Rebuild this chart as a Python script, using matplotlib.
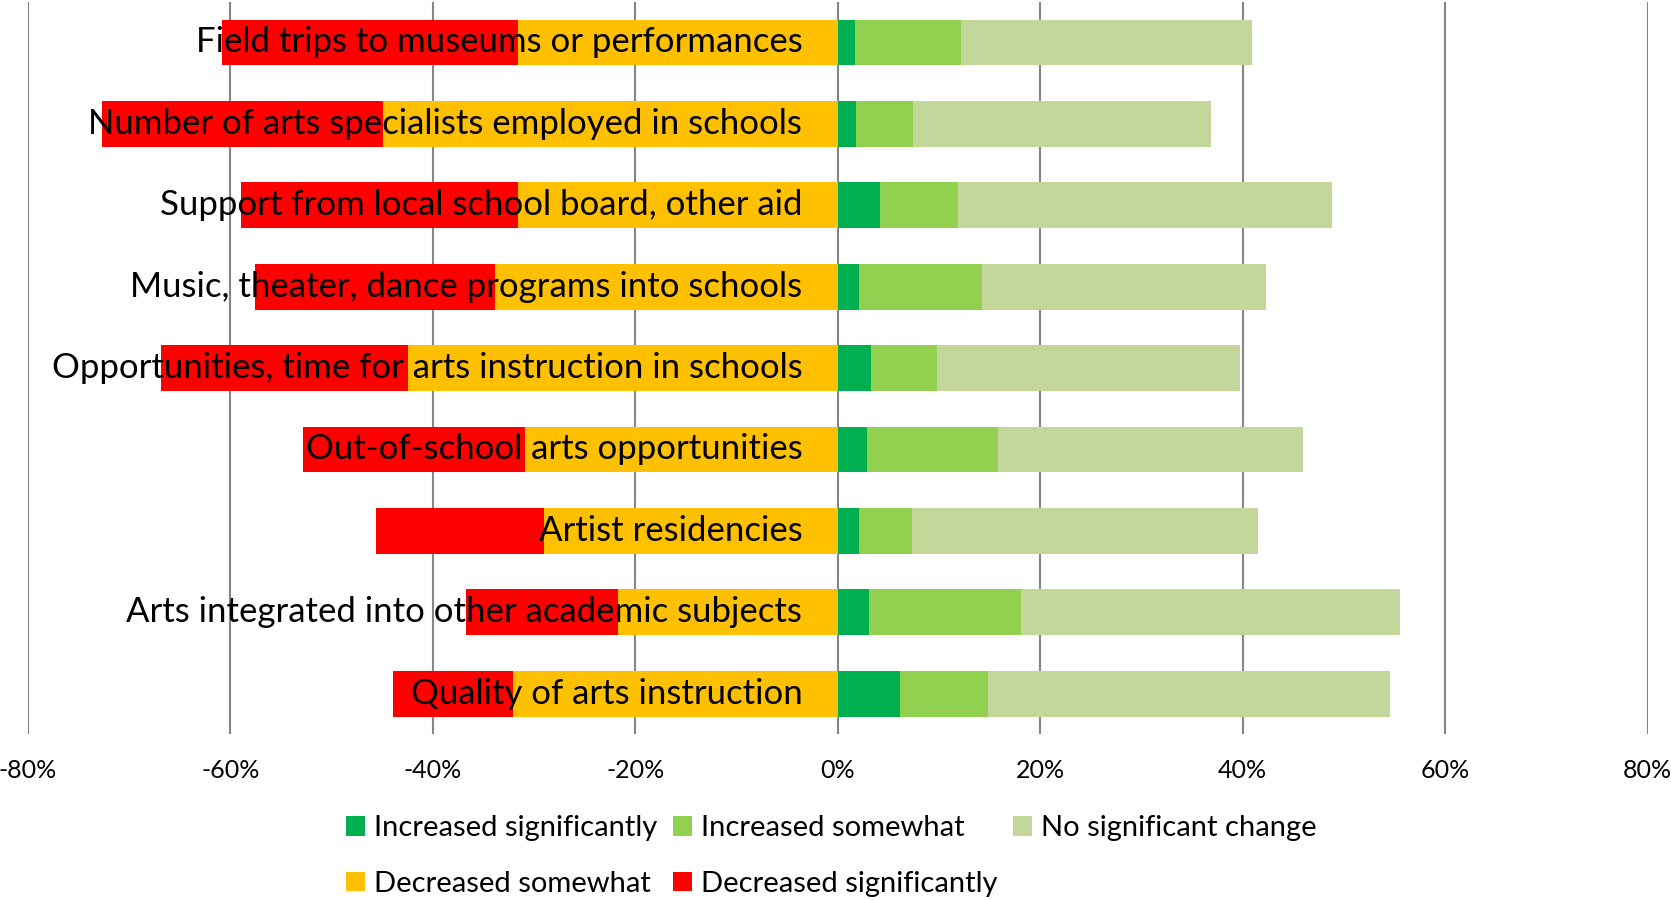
import matplotlib.pyplot as plt
import numpy as np

plt.rcParams['font.family'] = ['Lato', 'DejaVu Sans']

# categories top to bottom
categories = ['Field trips to museums or performances',
              'Number of arts specialists employed in schools',
              'Support from local school board, other aid',
              'Music, theater, dance programs into schools',
              'Opportunities, time for arts instruction in schools',
              'Out-of-school arts opportunities',
              'Artist residencies',
              'Arts integrated into other academic subjects',
              'Quality of arts instruction']

# percentages
inc_sig = [1.7, 1.8, 4.2, 2.1, 3.3, 2.9, 2.1, 3.1, 6.2]
inc_some = [10.5, 5.6, 7.7, 12.2, 6.5, 12.9, 5.2, 15.0, 8.6]
no_change = [28.7, 29.5, 36.9, 28.0, 29.9, 30.2, 34.2, 37.4, 39.8]
dec_some = [31.6, 44.9, 31.6, 33.8, 42.4, 30.9, 29.0, 21.7, 32.1]
dec_sig = [29.2, 27.8, 27.3, 23.8, 24.4, 21.9, 16.6, 15.0, 11.8]

ticks = [-80, -60, -40, -20, 0, 20, 40, 60, 80]
tick_labels = ['-80%', '-60%', '-40%', '-20%', '0%', '20%', '40%', '60%', '80%']

c_inc_sig = '#00B050'
c_inc_some = '#92D050'
c_none = '#C4D79B'
c_dec_some = '#FFC000'
c_dec_sig = '#FF0000'

fig = plt.figure(figsize=(16.71, 9), dpi=100)
ax = fig.add_axes([0.0166, 0.184, 0.9694, 0.814])

y = np.arange(len(categories))
h = 0.565

a = np.array(inc_sig)
b = np.array(inc_some)
c = np.array(no_change)
d = np.array(dec_some)
e = np.array(dec_sig)

b1 = ax.barh(y, a, height=h, color=c_inc_sig, label='Increased significantly', zorder=2)
b2 = ax.barh(y, b, left=a, height=h, color=c_inc_some, label='Increased somewhat', zorder=2)
b3 = ax.barh(y, c, left=a + b, height=h, color=c_none, label='No significant change', zorder=2)
b4 = ax.barh(y, -d, height=h, color=c_dec_some, label='Decreased somewhat', zorder=2)
b5 = ax.barh(y, -e, left=-d, height=h, color=c_dec_sig, label='Decreased significantly', zorder=2)

# category names sit on the bars, just left of zero
for i, name in enumerate(categories):
    ax.annotate(name, xy=(0, i), xytext=(-25.5, 0), textcoords='offset points',
                ha='right', va='center', fontsize=25, color='black', zorder=3)

ax.set_xlim(-80, 80)
ax.set_ylim(len(categories) - 0.5, -0.5)
ax.set_xticks(ticks)
ax.set_xticklabels(tick_labels, fontsize=18)
ax.set_yticks([])
ax.tick_params(axis='x', length=0, pad=18)
ax.grid(axis='x', color='#868686', linewidth=1.5, zorder=0)
ax.set_axisbelow(True)
for s in ax.spines.values():
    s.set_visible(False)

# reorder so the legend reads row by row
handles = [b1, b4, b2, b5, b3]
labels = [hh.get_label() for hh in handles]
fig.legend(handles, labels, ncol=3, loc='upper left', bbox_to_anchor=(0.207, 0.094),
           frameon=False, fontsize=21, handlelength=0.65, handleheight=0.65,
           handletextpad=0.3, columnspacing=0.55, labelspacing=1.0, borderpad=0,
           borderaxespad=0)

fig.savefig('out.png', dpi=100)
